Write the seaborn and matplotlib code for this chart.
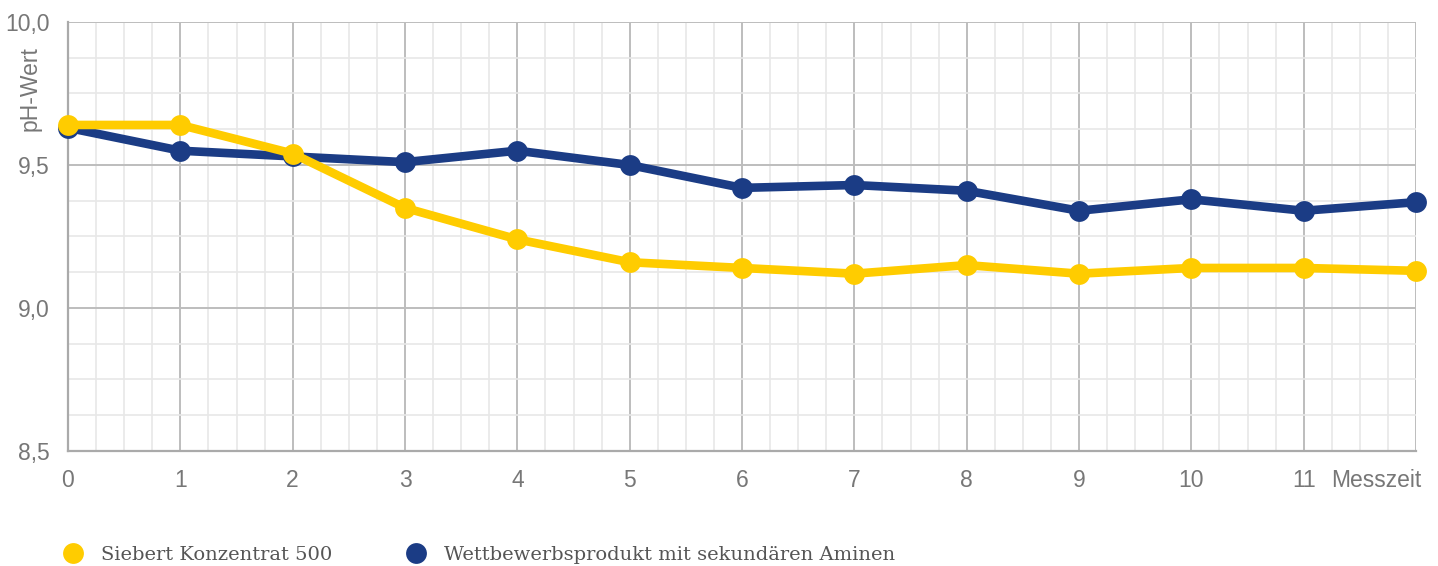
import matplotlib
matplotlib.use("Agg")
import matplotlib.pyplot as plt
from matplotlib.lines import Line2D
from matplotlib.ticker import MultipleLocator
import matplotlib.transforms as mtrans
import seaborn as sns
import pandas as pd

messzeit = [0, 1, 2, 3, 4, 5, 6, 7, 8, 9, 10, 11, 12]
siebert = [9.64, 9.64, 9.54, 9.35, 9.24, 9.16, 9.14, 9.12, 9.15, 9.12, 9.14, 9.14, 9.13]
wettbewerb = [9.63, 9.55, 9.53, 9.51, 9.55, 9.50, 9.42, 9.43, 9.41, 9.34, 9.38, 9.34, 9.37]
series_names = ["Siebert Konzentrat 500", "Wettbewerbsprodukt mit sekundären Aminen"]
colors = {"Siebert Konzentrat 500": "#FFCC00", "Wettbewerbsprodukt mit sekundären Aminen": "#1B3C85"}
y_ticks = [8.5, 9.0, 9.5, 10.0]
y_labels = ["8,5", "9,0", "9,5", "10,0"]
x_labels = [str(v) for v in range(0, 12)] + ["Messzeit"]

df = pd.concat([
    pd.DataFrame({"t": messzeit, "ph": wettbewerb, "serie": series_names[1]}),
    pd.DataFrame({"t": messzeit, "ph": siebert, "serie": series_names[0]}),
])

sns.set_style("white")
fig = plt.figure(figsize=(14.38, 5.66), dpi=100)
ax = fig.add_axes([68 / 1438, 1 - 451 / 566, (1416 - 68) / 1438, (451 - 22) / 566])

sns.lineplot(data=df, x="t", y="ph", hue="serie", hue_order=[series_names[1], series_names[0]],
             palette=colors, marker="o", markersize=15, linewidth=6.2, markeredgewidth=0,
             legend=False, ax=ax, sort=False)
for ln in ax.lines:
    ln.set_clip_on(False)
    ln.set_zorder(5)
    ln.set_solid_capstyle("round")
    ln.set_solid_joinstyle("round")

ax.set_xlim(0, 12)
ax.set_ylim(8.5, 10.0)
ax.xaxis.set_minor_locator(MultipleLocator(0.25))
ax.yaxis.set_minor_locator(MultipleLocator(0.125))
ax.set_xticks(messzeit)
ax.set_xticklabels(x_labels)
ax.set_yticks(y_ticks)
ax.set_yticklabels(y_labels)
ax.grid(which="minor", color="#e8e8e8", linewidth=1.2)
ax.grid(which="major", color="#bdbdbd", linewidth=1.4)
ax.set_axisbelow(True)
for s in ["top", "right"]:
    ax.spines[s].set_visible(False)
for s in ["left", "bottom"]:
    ax.spines[s].set_color("#aaaaaa")
    ax.spines[s].set_linewidth(1.6)
ax.tick_params(which="major", length=7, width=1.4, color="#aaaaaa", labelcolor="#777777",
               labelsize=16.5, pad=6)
ax.tick_params(which="minor", length=0)
for lab in ax.get_xticklabels() + ax.get_yticklabels():
    lab.set_fontfamily("Liberation Sans")
last = ax.get_xticklabels()[-1]
last.set_horizontalalignment("right")
last.set_transform(last.get_transform() + mtrans.ScaledTranslation(5 / 100, 0, fig.dpi_scale_trans))
ax.set_xlabel("")
ax.set_ylabel("")
ax.text(-0.028, 0.845, "pH-Wert", rotation=90, transform=ax.transAxes, ha="center", va="center",
        fontsize=16.5, color="#777777", family="Liberation Sans")

handles = [Line2D([], [], linestyle="none", marker="o", markersize=15, markeredgewidth=0,
                  color=colors[n]) for n in series_names]
leg = fig.legend(handles, series_names, loc="center left", bbox_to_anchor=(36 / 1438, 1 - 555 / 566),
                 ncol=2, frameon=False, columnspacing=3.3, handletextpad=0.45,
                 prop={"family": "DejaVu Serif", "size": 14})
for t in leg.get_texts():
    t.set_color("#555555")

fig.savefig("out.png", dpi=100)
